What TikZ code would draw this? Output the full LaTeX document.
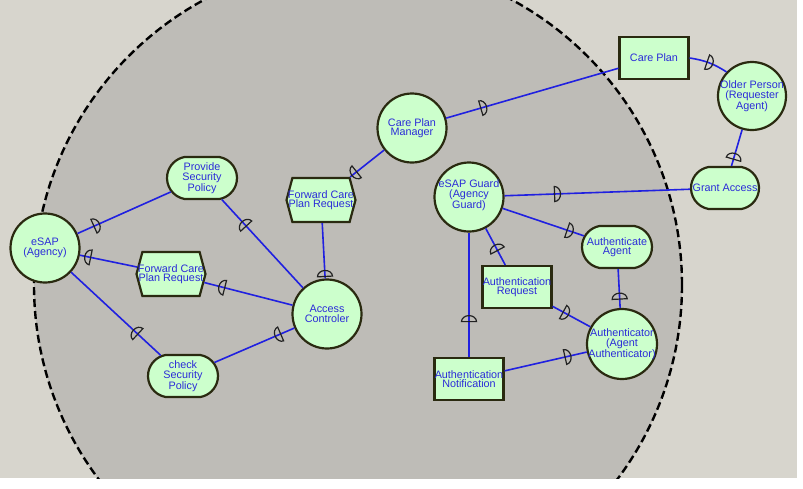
\documentclass[tikz,border=0pt]{standalone}
\usepackage{fontspec}
\setmainfont{Liberation Sans}
\usetikzlibrary{shapes.misc,shapes.symbols,decorations.markings}
\definecolor{bgout}{HTML}{D7D5CD}
\definecolor{bgin}{HTML}{BEBCB7}
\definecolor{nodefill}{HTML}{CCFFCC}
\definecolor{nodeline}{HTML}{2A2A10}
\definecolor{txtblue}{HTML}{2B2BD8}
\definecolor{linkblue}{HTML}{2020E0}
\definecolor{dcol}{HTML}{222222}
\begin{document}
\begin{tikzpicture}[x=1pt,y=-1pt,
 base/.style={draw=nodeline,line width=2.2pt,fill=nodefill,inner sep=0pt},
 actor/.style={base,circle,minimum size=69pt},
 goal/.style={base,rounded rectangle,rounded rectangle arc length=160,minimum width=70pt,minimum height=42pt},
 res/.style={base,rectangle,minimum width=69pt,minimum height=42pt},
 hexa/.style={base,signal,signal to=east and west,signal pointer angle=150,minimum width=69pt,minimum height=44pt},
 txt/.style={text=txtblue,font=\fontsize{10.8}{9.5}\selectfont,align=center,inner sep=0pt},
 link/.style={draw=linkblue,line width=1.6pt},
 dmark/.style={draw=dcol,line width=1.2pt},
 dfwd/.style={postaction={decorate,decoration={markings,mark=at position #1 with {\draw[dmark] (0pt,7.5pt) arc[start angle=90,end angle=-90,x radius=6pt,y radius=7.5pt] -- cycle;}}}},
 dbwd/.style={postaction={decorate,decoration={markings,mark=at position #1 with {\draw[dmark] (0pt,7.5pt) arc[start angle=90,end angle=270,x radius=6pt,y radius=7.5pt] -- cycle;}}}}
]
\useasboundingbox (0,0) rectangle (803,488);
\fill[white] (0,0) rectangle (803,488);
\fill[bgout] (0,0) rectangle (797,478);
\begin{scope}
\clip (0,0) rectangle (797,478);
\fill[bgin] (358,285) circle[radius=324];
\draw[black,line width=2.4pt,dash pattern=on 8pt off 4pt] (358,285) circle[radius=324];
\end{scope}

% nodes
\node[actor] (E) at (45,248) {};
\node[goal] (PSP) at (202,178) {};
\node[hexa] (FL) at (171,274) {};
\node[goal] (CSP) at (183,376) {};
\node[actor] (AC) at (327,314) {};
\node[hexa] (FT) at (321,200) {};
\node[actor] (CPM) at (412,128) {};
\node[actor] (G) at (469,197) {};
\node[goal] (AA) at (617,247) {};
\node[res] (AR) at (517,287) {};
\node[res] (AN) at (469,379) {};
\node[actor,minimum size=70pt] (AU) at (622,344) {};
\node[res] (CP) at (654,58) {};
\node[actor,minimum size=68pt] (OP) at (752,96) {};
\node[goal,minimum width=68pt] (GA) at (725,188) {};

% labels
\node[txt] (Et) at (E) {eSAP\\(Agency)};
\node[txt] (PSPt) at (PSP) {Provide\\Security\\Policy};
\node[txt] (FLt) at (FL) {Forward Care\\Plan Request};
\node[txt] (CSPt) at (CSP) {check\\Security\\Policy};
\node[txt] (ACt) at (AC) {Access\\Controler};
\node[txt] (FTt) at (FT) {Forward Care\\Plan Request};
\node[txt] (CPMt) at (CPM) {Care Plan\\Manager};
\node[txt] (Gt) at ([yshift=2pt]G) {eSAP Guard\\(Agency\\Guard)};
\node[txt] (AAt) at (AA) {Authenticate\\Agent};
\node[txt] (ARt) at (AR) {Authentication\\Request};
\node[txt] (ANt) at (AN) {Authentication\\Notification};
\node[txt] (AUt) at (AU) {Authenticator\\(Agent\\Authenticator)};
\node[txt] (CPt) at (CP) {Care Plan};
\node[txt] (OPt) at (OP) {Older Person\\(Requester\\Agent)};
\node[txt] (GAt) at (GA) {Grant Access};

% links
\draw[link,dfwd=18pt] (E) -- (PSP);
\draw[link,dbwd=11pt] (E) -- (FL);
\draw[link,dbwd=91pt] (E) -- (CSP);
\draw[link,dbwd=36pt] (PSP) -- (AC);
\draw[link,dbwd=21pt] (FL) -- (AC);
\draw[link,dbwd=72pt] (CSP) -- (AC);
\draw[link,dbwd=-2pt] (FT) -- (AC);
\draw[link,dfwd=35pt] (CPM) -- (FT);
\draw[link,dfwd=36pt] (CPM) -- (CP);
\draw[link,dfwd=18pt] (CP.east) to[bend left=12] (OP);
\draw[link,dbwd=-7pt] (OP) -- (GA);
\draw[link,dfwd=50pt] (G) -- (GA);
\draw[link,dfwd=68pt] (G) -- (AA);
\draw[link,dbwd=25pt] (G) -- (AR);
\draw[link,dbwd=89pt] (G) -- (AN);
\draw[link,dbwd=30pt] (AA) -- (AU);
\draw[link,dfwd=12pt] (AR) -- (AU);
\draw[link,dfwd=62pt] (AN) -- (AU);
\end{tikzpicture}
\end{document}
